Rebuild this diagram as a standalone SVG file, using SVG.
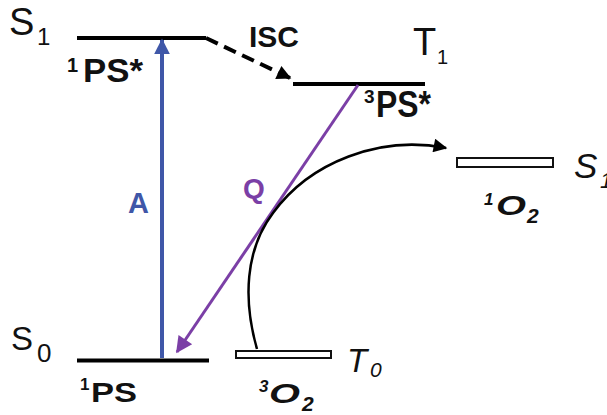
<svg xmlns="http://www.w3.org/2000/svg" width="607" height="415" viewBox="0 0 607 415">
<style>
.lvl{stroke:#000;stroke-width:4;fill:none}
.bar{stroke:#111;stroke-width:2;fill:#fff}
text{font-family:"Liberation Sans",Arial,sans-serif;fill:#111}
.b{font-weight:bold}
.i{font-style:italic}
</style>
<defs>
<marker id="hb" viewBox="0 0 10 10" refX="9" refY="5" markerWidth="4" markerHeight="4" orient="auto" markerUnits="strokeWidth"><path d="M0,0 L10,5 L0,10 z" fill="#3f57a8"/></marker>
<marker id="hp" viewBox="0 0 10 10" refX="9" refY="5" markerWidth="7" markerHeight="5.5" orient="auto" markerUnits="strokeWidth"><path d="M0,0 L10,5 L0,10 z" fill="#7b3fa6"/></marker>
<marker id="hk" viewBox="0 0 10 10" refX="9" refY="5" markerWidth="8" markerHeight="5.5" orient="auto" markerUnits="strokeWidth"><path d="M0,0 L10,5 L0,10 z" fill="#000"/></marker>
<marker id="hd" viewBox="0 0 10 10" refX="9" refY="5" markerWidth="4.3" markerHeight="3.6" orient="auto" markerUnits="strokeWidth"><path d="M0,0 L10,5 L0,10 z" fill="#000"/></marker>
</defs>
<g id="S1">
<line class="lvl" x1="77" y1="38" x2="206" y2="38"/>
<text x="9" y="35" font-size="38">S</text>
<text x="37" y="45" font-size="24">1</text>
<text class="b" x="67" y="72" font-size="20">1</text>
<text class="b" x="83" y="82" font-size="34" textLength="60" lengthAdjust="spacingAndGlyphs">PS*</text>
</g>
<g id="T1">
<line class="lvl" x1="293" y1="84" x2="425" y2="84"/>
<text x="413" y="55" font-size="38">T</text>
<text x="437" y="64" font-size="20">1</text>
<text class="b" x="364" y="103" font-size="19">3</text>
<text class="b" x="376" y="117" font-size="37" textLength="55" lengthAdjust="spacingAndGlyphs">PS*</text>
</g>
<g id="S0">
<line class="lvl" x1="77" y1="360.5" x2="209" y2="360.5"/>
<text x="11" y="350" font-size="33">S</text>
<text x="37" y="362" font-size="26">0</text>
<text class="b" x="80" y="390" font-size="17">1</text>
<text class="b" x="91" y="402" font-size="28" textLength="46" lengthAdjust="spacingAndGlyphs">PS</text>
</g>
<g id="T0">
<rect class="bar" x="236" y="351" width="95" height="7"/>
<text class="i" x="347" y="372" font-size="33">T</text>
<text class="i" x="370" y="377" font-size="21">0</text>
<text class="b i" x="259" y="392" font-size="17">3</text>
<text class="b i" x="269" y="403" font-size="28" textLength="31" lengthAdjust="spacingAndGlyphs">O</text>
<text class="b i" x="302" y="411" font-size="21">2</text>
</g>
<g id="S1O2">
<rect class="bar" x="457" y="158" width="96" height="9"/>
<text class="i" x="574" y="178" font-size="35">S</text>
<text class="i" x="600" y="188" font-size="22">1</text>
<text class="b i" x="484" y="205" font-size="17">1</text>
<text class="b i" x="496" y="215" font-size="28" textLength="30" lengthAdjust="spacingAndGlyphs">O</text>
<text class="b i" x="527" y="223" font-size="21">2</text>
</g>
<g id="connectors">
<line x1="162" y1="358" x2="162" y2="40" stroke="#3f57a8" stroke-width="4" marker-end="url(#hb)"/>
<text class="b" x="128" y="213" font-size="29" style="fill:#3f57a8">A</text>
<line x1="358" y1="85" x2="177" y2="352" stroke="#7b3fa6" stroke-width="3" marker-end="url(#hp)"/>
<text class="b" x="243" y="198" font-size="28" style="fill:#7b3fa6">Q</text>
<path d="M257,349 C243,300 245,250 273,213 C310,162 380,135 446,148" fill="none" stroke="#000" stroke-width="2.5" marker-end="url(#hk)"/>
<path d="M206,38 L290,78" fill="none" stroke="#000" stroke-width="4" stroke-dasharray="13,7" marker-end="url(#hd)"/>
<text class="b" x="249" y="47" font-size="30">ISC</text>
</g>
</svg>
